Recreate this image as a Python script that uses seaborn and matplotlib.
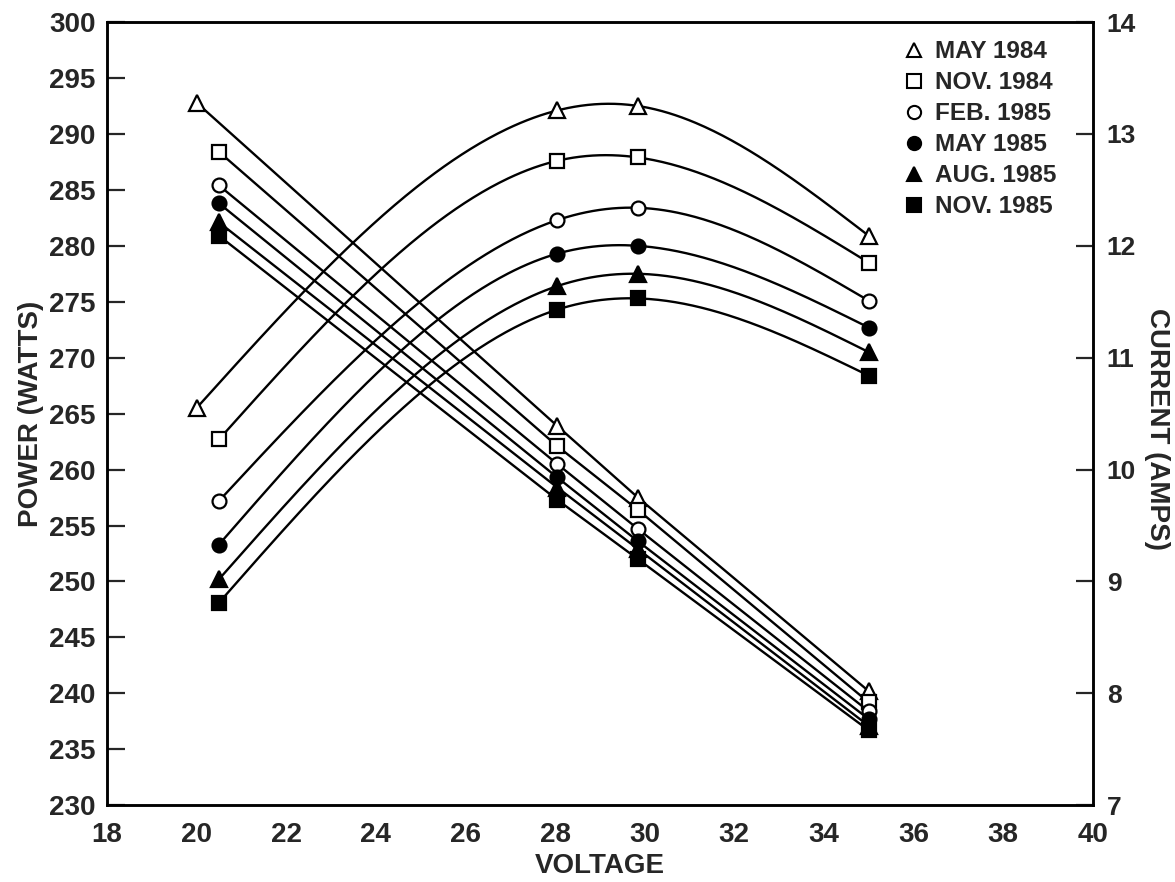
import numpy as np
import matplotlib
matplotlib.use("Agg")
import matplotlib.pyplot as plt
from matplotlib.lines import Line2D
import seaborn as sns

# series
months = ["MAY 1984", "NOV. 1984", "FEB. 1985", "MAY 1985", "AUG. 1985", "NOV. 1985"]
marker_shapes = ["^", "s", "o", "o", "^", "s"]
marker_filled = [False, False, False, True, True, True]

voltage = [
    [20.0, 28.05, 29.85, 35.0],
    [20.5, 28.05, 29.85, 35.0],
    [20.5, 28.05, 29.85, 35.0],
    [20.5, 28.05, 29.85, 35.0],
    [20.5, 28.05, 29.85, 35.0],
    [20.5, 28.05, 29.85, 35.0],
]
power = [
    [265.5, 292.1, 292.5, 280.9],
    [262.7, 287.6, 287.9, 278.5],
    [257.2, 282.3, 283.4, 275.1],
    [253.3, 279.3, 280.0, 272.7],
    [250.2, 276.4, 277.5, 270.5],
    [248.1, 274.3, 275.3, 268.4],
]
current = [
    [13.28, 10.39, 9.75, 8.02],
    [12.84, 10.21, 9.64, 7.92],
    [12.54, 10.05, 9.47, 7.84],
    [12.38, 9.93, 9.36, 7.77],
    [12.21, 9.84, 9.29, 7.71],
    [12.09, 9.73, 9.20, 7.67],
]

power_ticks = list(range(230, 301, 5))
current_ticks = list(range(7, 15))
voltage_ticks = list(range(18, 41, 2))


def natural_spline(x, y, n=300):
    # smooth drafting curve through the measured points
    x = np.asarray(x, float)
    y = np.asarray(y, float)
    k = len(x)
    h = np.diff(x)
    A = np.zeros((k, k))
    b = np.zeros(k)
    A[0, 0] = A[-1, -1] = 1
    for i in range(1, k - 1):
        A[i, i - 1] = h[i - 1]
        A[i, i] = 2 * (h[i - 1] + h[i])
        A[i, i + 1] = h[i]
        b[i] = 6 * ((y[i + 1] - y[i]) / h[i] - (y[i] - y[i - 1]) / h[i - 1])
    M = np.linalg.solve(A, b)
    xs = np.linspace(x[0], x[-1], n)
    idx = np.clip(np.searchsorted(x, xs) - 1, 0, k - 2)
    x0, x1 = x[idx], x[idx + 1]
    hh = x1 - x0
    t0 = x1 - xs
    t1 = xs - x0
    ys = (M[idx] * t0 ** 3 + M[idx + 1] * t1 ** 3) / (6 * hh) \
        + (y[idx] / hh - M[idx] * hh / 6) * t0 + (y[idx + 1] / hh - M[idx + 1] * hh / 6) * t1
    return xs, ys


sns.set_style("white")
plt.rcParams['font.family'] = ['Liberation Sans', 'DejaVu Sans']
plt.rcParams['font.weight'] = 'bold'

fig = plt.figure(figsize=(11.75, 8.82), dpi=100)
ax = fig.add_axes([0.091, 0.087, 0.839, 0.888])
ax2 = ax.twinx()

msize = {"^": 11, "s": 9.5, "o": 10}

for i, m in enumerate(months):
    fc = "black" if marker_filled[i] else "white"
    mk = marker_shapes[i]
    xs, ys = natural_spline(voltage[i], power[i])
    sns.lineplot(x=xs, y=ys, ax=ax, color="black", lw=1.7, estimator=None, sort=False)
    sns.lineplot(x=voltage[i], y=power[i], ax=ax, color="black", lw=0, marker=mk,
                 markersize=msize[mk], markerfacecolor=fc, markeredgecolor="black",
                 markeredgewidth=1.6, estimator=None, sort=False, zorder=4)
    sns.lineplot(x=voltage[i], y=current[i], ax=ax2, color="black", lw=1.7, marker=mk,
                 markersize=msize[mk], markerfacecolor=fc, markeredgecolor="black",
                 markeredgewidth=1.6, estimator=None, sort=False)

ax.set_xlim(18, 40)
ax.set_ylim(230, 300)
ax2.set_ylim(7, 14)

ax.set_xticks(voltage_ticks)
ax.set_yticks(power_ticks)
ax2.set_yticks(current_ticks)
ax.tick_params(axis="both", direction="in", length=13, width=1.6, labelsize=20, pad=8,
               top=False, right=False)
ax.tick_params(axis="x", length=16, pad=12)
ax2.tick_params(axis="y", direction="in", length=12, width=1.6, labelsize=19, pad=10)

for a in (ax, ax2):
    for s in a.spines.values():
        s.set_linewidth(1.8)
        s.set_color("black")

ax.set_xlabel("VOLTAGE", fontsize=20, fontweight="bold", labelpad=4)
ax.set_ylabel("POWER (WATTS)", fontsize=20, fontweight="bold", labelpad=4)
ax2.set_ylabel("CURRENT (AMPS)", fontsize=20, fontweight="bold", rotation=270)
ax2.yaxis.set_label_coords(1.078, 0.48)

handles = []
for i, m in enumerate(months):
    fc = "black" if marker_filled[i] else "white"
    handles.append(Line2D([], [], linestyle="none", marker=marker_shapes[i], markersize=9.5,
                          markerfacecolor=fc, markeredgecolor="black", markeredgewidth=1.5))
leg = ax2.legend(handles, months, loc="upper right", bbox_to_anchor=(0.985, 1.005), frameon=False,
                 handletextpad=0.35, labelspacing=0.33, handlelength=1.0,
                 prop={"weight": "bold", "size": 17.5})

fig.savefig("out.png", dpi=100, facecolor="white")
